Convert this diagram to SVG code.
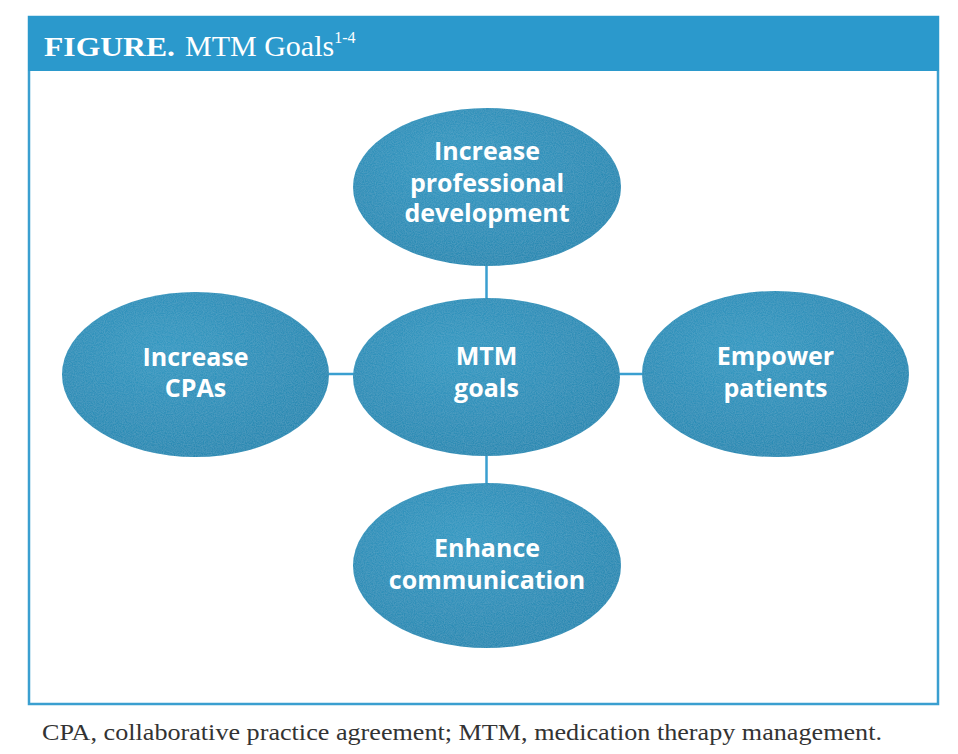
<svg xmlns="http://www.w3.org/2000/svg" width="958" height="754" viewBox="0 0 958 754">
<defs>
<radialGradient id="g" cx="0.4" cy="0.35" r="0.75">
<stop offset="0" stop-color="#3799c2"/>
<stop offset="1" stop-color="#2b87b0"/>
</radialGradient>
<filter id="noise" x="0" y="0" width="1" height="1">
<feTurbulence type="fractalNoise" baseFrequency="0.9" numOctaves="2" seed="3" result="n"/>
<feColorMatrix in="n" type="matrix" values="0 0 0 0 0.3  0 0 0 0 0.65  0 0 0 0 0.8  0 0 0 0.3 -0.08" result="c"/>
<feComposite in="c" in2="SourceGraphic" operator="in" result="t"/>
<feMerge><feMergeNode in="SourceGraphic"/><feMergeNode in="t"/></feMerge>
</filter>
<style>
.node ellipse{fill:url(#g);filter:url(#noise)}
.lbl{font-family:"Open Sans","DejaVu Sans",sans-serif;font-weight:bold;font-size:25px;fill:#ffffff;text-anchor:middle}
.conn line{stroke:#3a9fd0;stroke-width:2.5}
</style>
</defs>
<rect x="0" y="0" width="958" height="754" fill="#ffffff"/>
<rect x="29" y="17" width="909" height="687" fill="none" stroke="#3a9fd0" stroke-width="2.5"/>
<rect x="28" y="16" width="911" height="55" fill="#2b99cc"/>
<text x="44" y="56" font-family="'Liberation Serif',serif" fill="#ffffff"><tspan font-weight="bold" font-size="28" textLength="131" lengthAdjust="spacingAndGlyphs">FIGURE.</tspan><tspan font-size="30" dx="10">MTM Goals</tspan><tspan font-size="16" dy="-13">1-4</tspan></text>
<g id="connectors" class="conn">
<line x1="486.5" y1="264" x2="486.5" y2="299"/>
<line x1="486.5" y1="455" x2="486.5" y2="484"/>
<line x1="328" y1="374" x2="354" y2="374"/>
<line x1="619" y1="374" x2="643" y2="374"/>
</g>
<g id="node-top" class="node">
<ellipse cx="487" cy="187" rx="134" ry="79"/>
<text class="lbl" x="487" y="160">Increase</text>
<text class="lbl" x="487" y="192">professional</text>
<text class="lbl" x="487" y="222">development</text>
</g>
<g id="node-center" class="node">
<ellipse cx="486.5" cy="377" rx="133.5" ry="79"/>
<text class="lbl" x="486.5" y="365">MTM</text>
<text class="lbl" x="486.5" y="397">goals</text>
</g>
<g id="node-left" class="node">
<ellipse cx="195.5" cy="374.5" rx="133.5" ry="82.5"/>
<text class="lbl" x="195.5" y="366">Increase</text>
<text class="lbl" x="195.5" y="397">CPAs</text>
</g>
<g id="node-right" class="node">
<ellipse cx="775.5" cy="374" rx="133.5" ry="83"/>
<text class="lbl" x="775.5" y="365">Empower</text>
<text class="lbl" x="775.5" y="397">patients</text>
</g>
<g id="node-bottom" class="node">
<ellipse cx="487" cy="565.5" rx="134" ry="82.5"/>
<text class="lbl" x="487" y="557">Enhance</text>
<text class="lbl" x="487" y="589">communication</text>
</g>
<text x="42" y="740" font-family="'Liberation Serif',serif" font-size="23" fill="#333333" textLength="840" lengthAdjust="spacingAndGlyphs">CPA, collaborative practice agreement; MTM, medication therapy management.</text>
</svg>
